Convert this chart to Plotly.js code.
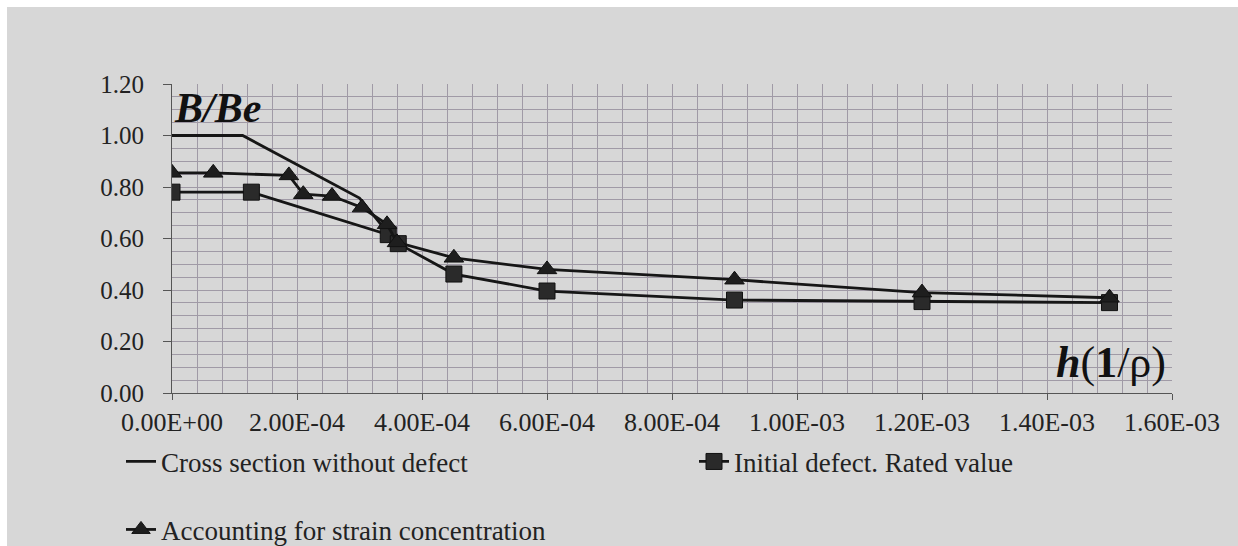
<!DOCTYPE html>
<html>
<head>
<meta charset="utf-8">
<script src="https://cdn.plot.ly/plotly-3.0.1.min.js"></script>
<style>
  html, body { margin: 0; padding: 0; background: #ffffff; }
  #chart { position: absolute; left: 7px; top: 7px; width: 1231px; height: 539px; }
</style>
</head>
<body>
<div id="chart"></div>
<script>
// Series: cross section without defect (line only)
const crossX = [0, 1.13e-4, 3.0e-4, 3.46e-4];
const crossY = [1.0, 1.0, 0.757, 0.62];

// Series: initial defect, rated value (squares)
const defectX = [0, 1.27e-4, 3.46e-4, 3.62e-4, 4.51e-4, 6.0e-4, 9.0e-4, 1.2e-3, 1.5e-3];
const defectY = [0.78, 0.78, 0.615, 0.58, 0.462, 0.396, 0.361, 0.355, 0.351];

// Series: accounting for strain concentration (triangles)
const strainX = [0, 0.66e-4, 1.87e-4, 2.1e-4, 2.56e-4, 3.04e-4, 3.44e-4, 3.6e-4, 4.51e-4, 6.0e-4, 9.0e-4, 1.2e-3, 1.5e-3];
const strainY = [0.855, 0.855, 0.845, 0.772, 0.765, 0.72, 0.655, 0.585, 0.525, 0.48, 0.44, 0.39, 0.37];

// Axis ticks
const xTickVals = [0, 2e-4, 4e-4, 6e-4, 8e-4, 1e-3, 1.2e-3, 1.4e-3, 1.6e-3];
const xTickText = ["0.00E+00", "2.00E-04", "4.00E-04", "6.00E-04", "8.00E-04", "1.00E-03", "1.20E-03", "1.40E-03", "1.60E-03"];
const yTickVals = [0, 0.2, 0.4, 0.6, 0.8, 1.0, 1.2];

const names = ["Cross section without defect", "Initial defect. Rated value", "Accounting for strain concentration"];

const lineColor = "#161616";
const gridColor = "#a09aa6";
const serif = "'Liberation Serif', 'Times New Roman', serif";

const traces = [
  {
    x: crossX, y: crossY, name: names[0], type: "scatter", mode: "lines",
    line: { color: lineColor, width: 2.8 }, legend: "legend"
  },
  {
    x: defectX, y: defectY, name: names[1], type: "scatter", mode: "lines+markers",
    line: { color: lineColor, width: 2.8 },
    marker: { symbol: "square", size: 16, color: "#2a2a2a", line: { color: "#111", width: 1 } },
    legend: "legend2"
  },
  {
    x: strainX, y: strainY, name: names[2], type: "scatter", mode: "lines+markers",
    line: { color: lineColor, width: 2.8 },
    marker: { symbol: "triangle-up", size: 17, color: "#1e1e1e", line: { color: "#111", width: 1 } },
    legend: "legend3"
  }
];

const legendBase = {
  orientation: "h", xanchor: "left", yanchor: "middle",
  bgcolor: "rgba(0,0,0,0)", font: { family: serif, size: 27, color: "#222" },
  itemwidth: 30
};

const layout = {
  width: 1231, height: 539,
  margin: { l: 165, r: 66, t: 77, b: 153, autoexpand: false },
  paper_bgcolor: "#d7d7d7",
  plot_bgcolor: "#d7d7d7",
  font: { family: serif, size: 26, color: "#222" },
  showlegend: true,
  xaxis: {
    range: [0, 1.6e-3],
    tickmode: "array", tickvals: xTickVals, ticktext: xTickText,
    ticks: "outside", ticklen: 6, tickcolor: "#555", tickwidth: 1,
    showline: true, linecolor: "#555", linewidth: 1,
    showgrid: true, gridcolor: gridColor, gridwidth: 1,
    zeroline: false,
    minor: { dtick: 4e-5, showgrid: true, gridcolor: gridColor, gridwidth: 1, ticks: "" },
    tickfont: { family: serif, size: 26, color: "#222" },
    ticklabelstandoff: 0
  },
  yaxis: {
    range: [0, 1.2],
    tickmode: "array", tickvals: yTickVals, tickformat: ".2f",
    ticks: "outside", ticklen: 8, tickcolor: "#555", tickwidth: 1,
    showline: true, linecolor: "#555", linewidth: 1,
    showgrid: true, gridcolor: gridColor, gridwidth: 1,
    zeroline: false,
    minor: { dtick: 0.05, showgrid: true, gridcolor: gridColor, gridwidth: 1, ticks: "" },
    tickfont: { family: serif, size: 25, color: "#222" },
    ticklabelstandoff: 14
  },
  legend: Object.assign({}, legendBase, { x: -0.051, y: -0.223 }),
  legend2: Object.assign({}, legendBase, { x: 0.522, y: -0.223 }),
  legend3: Object.assign({}, legendBase, { x: -0.051, y: -0.443 }),
  annotations: [
    {
      x: 0, y: 1.105, xref: "x", yref: "y", xanchor: "left", yanchor: "middle",
      text: "<b><i>B/Be</i></b>", showarrow: false,
      font: { family: serif, size: 42, color: "#111" }
    },
    {
      x: 1.594e-3, y: 0.12, xref: "x", yref: "y", xanchor: "right", yanchor: "middle",
      text: "<b><i>h</i></b>(<b>1</b>/ρ)", showarrow: false,
      font: { family: serif, size: 44, color: "#111" }
    }
  ]
};

Plotly.newPlot("chart", traces, layout, { displayModeBar: false, staticPlot: true });
</script>
</body>
</html>
